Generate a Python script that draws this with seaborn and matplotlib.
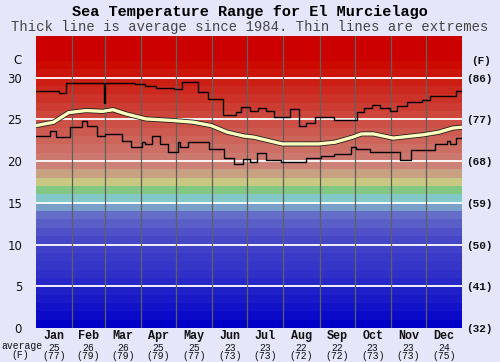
import numpy as np
import pandas as pd
import seaborn as sns
import matplotlib.pyplot as plt
import matplotlib.patheffects as pe

# month info
months = ['Jan', 'Feb', 'Mar', 'Apr', 'May', 'Jun', 'Jul', 'Aug', 'Sep', 'Oct', 'Nov', 'Dec']
month_avg_c = [25, 26, 26, 25, 25, 23, 23, 22, 22, 23, 23, 24]
month_avg_f = [77, 79, 79, 79, 77, 73, 73, 72, 72, 73, 73, 75]
month_start = [0, 31, 59, 90, 120, 151, 181, 212, 243, 273, 304, 334, 365]

# average temperature (day of year, C)
avg_day = [0, 15, 28, 43, 57, 66, 77, 94, 118, 135, 150, 164, 178, 187,
           211, 242, 256, 271, 279, 289, 306, 332, 345, 357, 365]
avg_temp = [24.25, 24.65, 25.8, 26.05, 25.95, 26.15, 25.65, 25.05, 24.85, 24.65, 24.25, 23.45, 23.0, 22.85,
            22.05, 22.05, 22.25, 22.85, 23.25, 23.25, 22.75, 23.15, 23.45, 23.95, 24.05]

# highest recorded (step line)
max_day = [0, 20, 26, 29, 43, 58, 59, 72, 85, 93, 103, 118, 125, 139, 147, 160, 171, 176,
           183, 190, 197, 204, 218, 225, 231, 239, 255, 275, 281, 288, 295, 303, 309, 318,
           331, 338, 360, 365]
max_temp = [28.4, 28.2, 29.4, 29.3, 29.4, 26.9, 29.4, 29.3, 29.2, 29.05, 28.7, 28.6, 29.45, 28.25,
            27.45, 25.5, 25.9, 26.45, 26.05, 26.3, 26.0, 25.3, 26.2, 24.25, 24.55, 25.3, 24.95,
            25.85, 26.35, 26.7, 26.4, 26.05, 26.65, 27.05, 27.3, 27.85, 28.4, 28.4]

# lowest recorded (step line)
min_day = [0, 12, 17, 29, 39, 44, 52, 59, 74, 81, 91, 93, 99, 106, 113, 122, 123, 130, 148,
           161, 170, 177, 183, 189, 197, 210, 231, 244, 255, 270, 274, 286, 312, 321, 342,
           352, 355, 360, 365]
min_temp = [23.05, 23.65, 22.85, 24.05, 24.85, 24.25, 23.05, 23.25, 22.45, 21.65, 22.25, 22.05,
            23.0, 22.1, 21.05, 22.25, 21.65, 22.25, 21.4, 20.4, 19.7, 20.25, 19.9, 21.0, 20.1,
            19.9, 20.4, 20.65, 20.9, 21.65, 21.45, 21.05, 20.15, 21.35, 22.05, 22.45, 22.05,
            22.75, 22.75]

c_ticks = [0, 5, 10, 15, 20, 25, 30]
f_ticks = ['(32)', '(41)', '(50)', '(59)', '(68)', '(77)', '(86)']

band_colors = ['#0000c8', '#0a0ac8', '#1212c8', '#1a1ac8', '#2020c8', '#2828c8', '#3030c8',
               '#3535c8', '#3a3ac8', '#4040c8', '#4646c8', '#5050c8', '#5a5fc8', '#646ec8',
               '#78a0c8', '#82c8c8', '#82c882', '#c8c882', '#c8a082', '#cd8278', '#cd786e',
               '#cd6e64', '#cd645a', '#cd5a50', '#cd5046', '#cd463c', '#cd3c32', '#cd3228',
               '#cd281e', '#cd1e14', '#cd140a', '#cd0a00', '#cd0000', '#cd0000', '#cd0000']

bg = '#e6e6fa'
mono = 'Liberation Mono'

fig = plt.figure(figsize=(5, 3.62), dpi=100, facecolor=bg)
ax = fig.add_axes([0.072, 0.094, 0.852, 0.807])

for i, c in enumerate(band_colors):
    ax.axhspan(i, i + 1, color=c, lw=0, zorder=0)
for t in c_ticks[1:]:
    ax.axhline(t, color='white', lw=1.3, zorder=1)
for d in month_start[1:-1]:
    ax.axvline(d, color='#606060', lw=0.9, zorder=1)

avg_df = pd.DataFrame({'day': avg_day, 'temp': avg_temp})
max_df = pd.DataFrame({'day': max_day, 'temp': max_temp})
min_df = pd.DataFrame({'day': min_day, 'temp': min_temp})

sns.lineplot(data=max_df, x='day', y='temp', ax=ax, color='black', lw=1.0,
             drawstyle='steps-post', zorder=3)
sns.lineplot(data=min_df, x='day', y='temp', ax=ax, color='black', lw=1.0,
             drawstyle='steps-post', zorder=3)
sns.lineplot(data=avg_df, x='day', y='temp', ax=ax, color='#ffffc0', lw=2.4, zorder=4,
             path_effects=[pe.Stroke(linewidth=3.6, foreground='#202020'), pe.Normal()])

ax.set_xlim(0, 365)
ax.set_ylim(0, 35)
ax.set_xlabel('')
ax.set_ylabel('')
ax.set_xticks([])
ax.set_yticks(c_ticks)
ax.set_yticklabels([str(t) for t in c_ticks], fontsize=8.5, color='#111111')
ax.tick_params(axis='y', length=0, pad=10)
for s in ax.spines.values():
    s.set_visible(False)

ax2 = ax.twinx()
ax2.set_ylim(0, 35)
ax2.set_yticks(c_ticks)
ax2.set_yticklabels(f_ticks, fontsize=8, family=mono, fontweight='bold', color='#111111')
ax2.tick_params(axis='y', length=0, pad=3)
for s in ax2.spines.values():
    s.set_visible(False)

# month labels under the plot
for i, m in enumerate(months):
    xc = (month_start[i] + month_start[i + 1]) / 2
    ax.text(xc, -0.3, m, ha='center', va='top', fontsize=8.5, family=mono,
            fontweight='bold', color='#111111')
    ax.text(xc, -1.75, str(month_avg_c[i]), ha='center', va='top', fontsize=7, family=mono,
            color='#111111')
    ax.text(xc, -2.8, '(' + str(month_avg_f[i]) + ')', ha='center', va='top', fontsize=7,
            family=mono, color='#111111')

fig.text(22 / 500, 1 - 346 / 362, 'average', ha='center', va='center', fontsize=7,
         family=mono, color='#111111')
fig.text(20 / 500, 1 - 355 / 362, '(F)', ha='center', va='center', fontsize=7,
         family=mono, color='#111111')
fig.text(18 / 500, 1 - 61 / 362, 'C', ha='center', va='center', fontsize=8.5, color='#111111')
fig.text(481 / 500, 1 - 61 / 362, '(F)', ha='center', va='center', fontsize=8, family=mono,
         fontweight='bold', color='#111111')

fig.text(0.5, 1 - 12 / 362, 'Sea Temperature Range for El Murcielago', ha='center',
         va='center', fontsize=11, family=mono, fontweight='bold', color='black')
fig.text(0.5, 1 - 27 / 362, 'Thick line is average since 1984. Thin lines are extremes',
         ha='center', va='center', fontsize=10, family=mono, color='#444444')

fig.savefig('out.png', dpi=100, facecolor=bg)
